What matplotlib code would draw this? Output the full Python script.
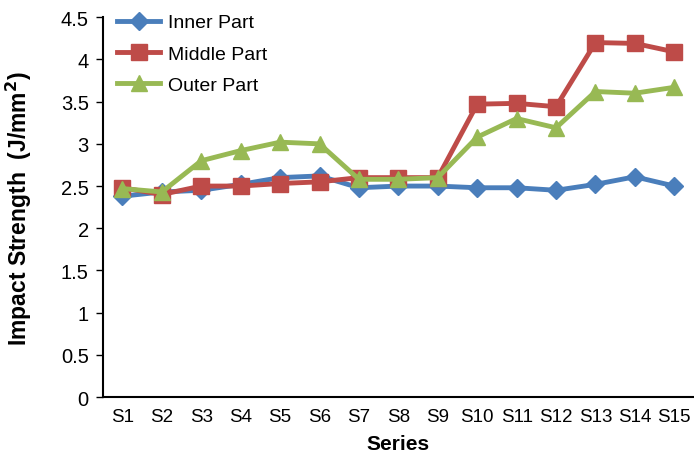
import matplotlib.pyplot as plt

plt.rcParams['font.family'] = ['Liberation Sans', 'DejaVu Sans']

series = ['S%d' % i for i in range(1, 16)]
inner = [2.38, 2.43, 2.45, 2.52, 2.60, 2.62, 2.48, 2.50, 2.50, 2.48, 2.48, 2.45, 2.52, 2.61, 2.50]
middle = [2.48, 2.40, 2.50, 2.50, 2.53, 2.55, 2.60, 2.60, 2.60, 3.47, 3.48, 3.44, 4.20, 4.19, 4.09]
outer = [2.47, 2.43, 2.80, 2.92, 3.02, 3.00, 2.58, 2.58, 2.60, 3.08, 3.30, 3.19, 3.62, 3.60, 3.67]

fig = plt.figure(figsize=(6.94, 4.56), dpi=100)
ax = fig.add_axes([0.148, 0.127, 0.852, 0.833])

x = range(len(series))
ax.plot(x, inner, color='#4a7ebb', lw=3.5, marker='D', ms=9, label='Inner Part')
ax.plot(x, middle, color='#be4b48', lw=3.5, marker='s', ms=11, label='Middle Part')
ax.plot(x, outer, color='#98b954', lw=3.5, marker='^', ms=11, label='Outer Part')

ax.set_xlim(-0.5, len(series) - 0.5)
ax.set_ylim(0, 4.5)
ax.set_yticks([0, 0.5, 1, 1.5, 2, 2.5, 3, 3.5, 4, 4.5])
ax.set_yticklabels(['0', '0.5', '1', '1.5', '2', '2.5', '3', '3.5', '4', '4.5'])
ax.set_xticks(list(x))
ax.set_xticklabels(series)
ax.tick_params(axis='x', length=0, labelsize=13.5, pad=8)
ax.tick_params(axis='y', length=5, width=1, labelsize=14.5, pad=5)
ax.spines['top'].set_visible(False)
ax.spines['right'].set_visible(False)
ax.spines['left'].set_linewidth(1.5)
ax.spines['bottom'].set_linewidth(1.5)

ax.set_xlabel('Series', fontsize=15, fontweight='bold', labelpad=6)
ax.set_ylabel('Impact Strength  (J/mm$^{\\mathbf{2}}$)', fontsize=16.5, fontweight='bold')
ax.yaxis.set_label_coords(-0.117, 0.5)

ax.legend(loc='upper left', bbox_to_anchor=(-0.005, 1.055), frameon=False, fontsize=14,
          handlelength=2.2, handletextpad=0.4, labelspacing=0.7)

fig.savefig('out.png')
